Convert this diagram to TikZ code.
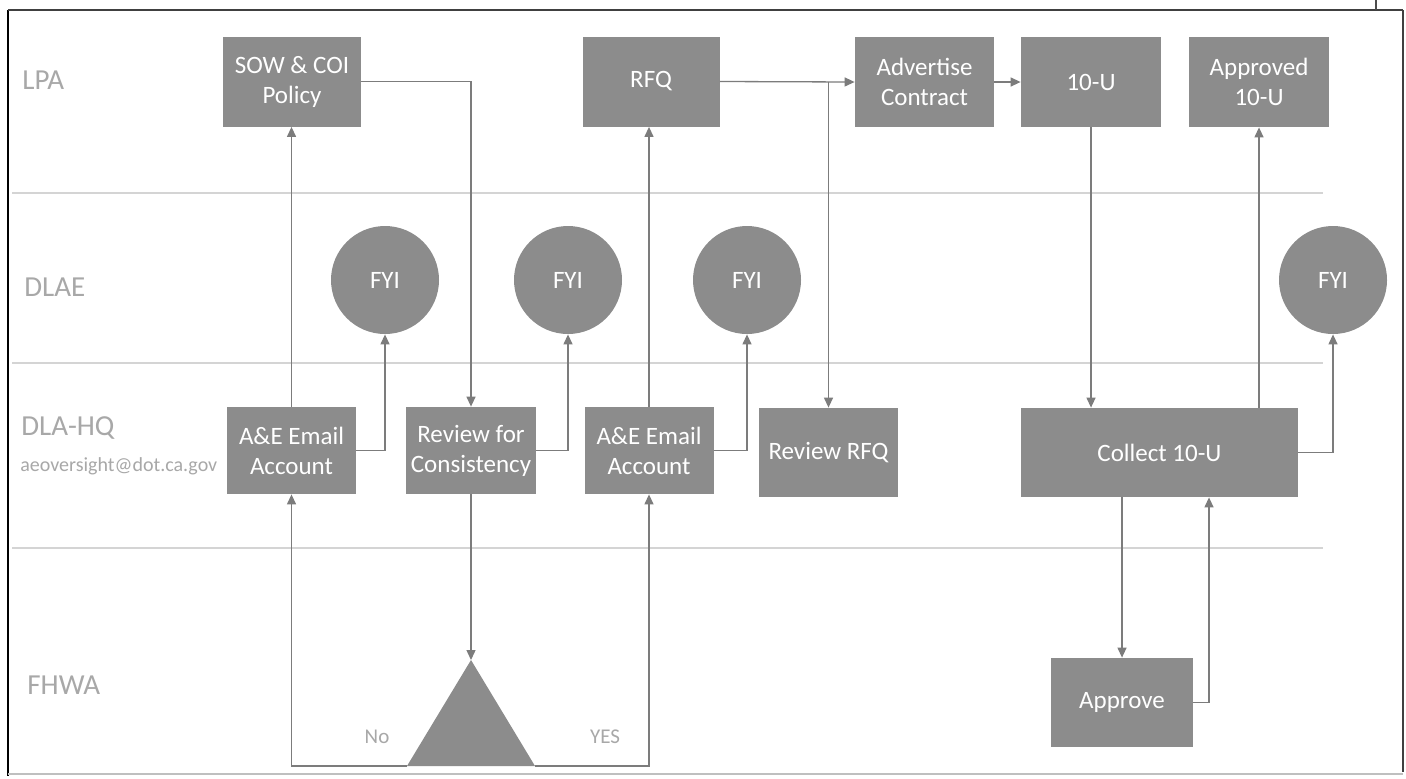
\documentclass[tikz,border=0pt]{standalone}
\usepackage{fontspec}
\setmainfont{Carlito}
\usetikzlibrary{arrows.meta,calc}
\definecolor{boxgray}{HTML}{8C8C8C}
\definecolor{linegray}{HTML}{7C7C7C}
\definecolor{lanegray}{HTML}{D4D4D4}
\definecolor{labelgray}{HTML}{A8A8A8}
\begin{document}
\begin{tikzpicture}[x=0.5pt,y=-0.5pt,
  box/.style={rectangle, fill=boxgray, text=white, align=center, inner sep=0pt,
    minimum height=45pt, font=\fontsize{12.5}{15}\selectfont},
  fyi/.style={circle, fill=boxgray, text=white, minimum size=54pt, inner sep=0pt,
    font=\fontsize{12.5}{15}\selectfont},
  conn/.style={draw=linegray, line width=0.65pt, -{Triangle[length=5pt,width=4.5pt]}},
  lanelabel/.style={font=\fontsize{14.5}{17}\selectfont, text=labelgray, anchor=west, inner sep=0pt},
  lanesep/.style={draw=lanegray, line width=0.7pt},
  yesno/.style={font=\fontsize{10.5}{12}\selectfont, text=labelgray, inner sep=0pt},
]
\useasboundingbox (0,0) rectangle (1406,778);
\fill[white] (0,0) rectangle (1406,778);

% frame
\draw[black, line width=1.2pt] (8,10) -- (8,776);
\draw[black!75, line width=0.9pt] (8,10) -- (1403,10);
\draw[black!75, line width=0.9pt] (1403,10) -- (1403,772);
\draw[black!25, line width=0.7pt] (8,774) -- (1403,774);
\draw[black!70, line width=0.7pt] (1376,0) -- (1376,10);

% lane separators
\draw[lanesep] (12,193) -- (1323,193);
\draw[lanesep] (12,363) -- (1323,363);
\draw[lanesep] (12,548) -- (1323,548);

% lane labels
\node[lanelabel] (lpa) at (22,80) {LPA};
\node[lanelabel] (dlae) at (24,287) {DLAE};
\node[lanelabel] (dlahq) at (21,428) {DLA-HQ};
\node[lanelabel, font=\fontsize{10}{12}\selectfont] (email) at (20,466) {aeoversight@dot.ca.gov};
\node[lanelabel] (fhwa) at (27,685) {FHWA};

% LPA row
\node[box, minimum width=69pt] (sow) at (292,81.5) {SOW \& COI\\Policy};
\node[box, minimum width=68.5pt] (rfq) at (651,81.5) {RFQ};
\node[box, minimum width=69.5pt] (adv) at (924.5,82) {Advertise\\Contract};
\node[box, minimum width=70pt] (tenu) at (1091,82) {10-U};
\node[box, minimum width=70pt] (appr10) at (1259,82) {Approved\\10-U};

% DLAE row
\node[fyi] (fyi1) at (385,280) {FYI};
\node[fyi] (fyi2) at (568,280) {FYI};
\node[fyi] (fyi3) at (747,280) {FYI};
\node[fyi] (fyi4) at (1333,280) {FYI};

% DLA-HQ row
\node[box, minimum width=64.5pt, minimum height=43.5pt] (ae1) at (291.5,450.5) {A\&E Email\\Account};
\node[box, minimum width=65pt, minimum height=43.5pt] (rev) at (471,450.5) {Review for\\Consistency};
\node[box, minimum width=64.5pt, minimum height=43.5pt] (ae2) at (649,450.5) {A\&E Email\\Account};
\node[box, minimum width=69.5pt, minimum height=44.5pt] (rrfq) at (828.5,452.5) {Review RFQ};
\node[box, minimum width=138.5pt, minimum height=44.5pt] (coll) at (1159.5,452.5) {Collect 10-U};

% FHWA row
\node[box, minimum width=71pt, minimum height=44.5pt] (approve) at (1122,702.5) {Approve};
\coordinate (apex) at (471,660);
\coordinate (bl) at (407,766);
\coordinate (br) at (535,766);
\fill[boxgray] (apex) -- (br) -- (bl) -- cycle;
\node[yesno] (no) at (377,737) {No};
\node[yesno] (yes) at (605,737) {YES};

% connectors
\draw[conn] (ae1.north) -- (ae1.north |- sow.south);
\draw[conn] (sow.east) -| (rev.north);
\draw[conn] (ae1.east) -| (fyi1.south);
\draw[conn] (rev.east) -| (fyi2.south);
\draw[conn] (rev.south) -- (apex);
\draw[conn] (bl) -| (ae1.south);
\draw[conn] (br) -| (ae2.south);
\draw[conn] (ae2.north) -- (ae2.north |- rfq.south);
\draw[conn] (ae2.east) -| (fyi3.south);
\draw[conn] (rfq.east) -- (adv.west);
\coordinate (j) at (rrfq.north |- rfq.east);
\draw[conn] (j) -- (rrfq.north);
\draw[conn] (adv.east) -- (tenu.west);
\draw[conn] (tenu.south) -- (tenu.south |- coll.north);
\draw[conn] (appr10.south |- coll.north) -- (appr10.south);
\draw[conn] (coll.east) -| (fyi4.south);
\draw[conn] (approve.north |- coll.south) -- (approve.north);
\draw[conn] (approve.east) -| ([xshift=24.75pt]coll.south);
\end{tikzpicture}
\end{document}
